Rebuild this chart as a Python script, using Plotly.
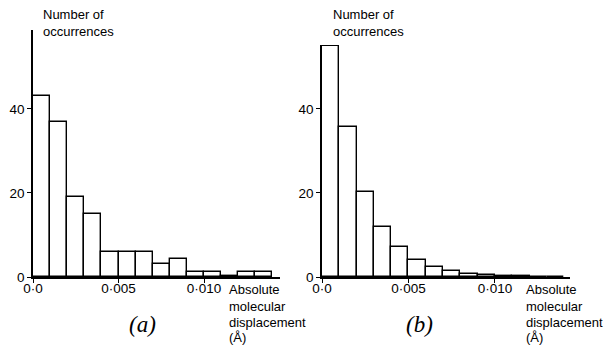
import plotly.graph_objects as go

# Bin left edges (Å), bin width 0.001
bin_left = [0.000, 0.001, 0.002, 0.003, 0.004, 0.005, 0.006,
            0.007, 0.008, 0.009, 0.010, 0.011, 0.012, 0.013]
bin_width = 0.001

counts_a = [43, 37, 19, 15, 6, 6, 6, 3, 4.2, 1.1, 1.1, 0.2, 1.3, 1.3]
counts_b = [55, 35.8, 20.3, 12, 7.1, 4.0, 2.4, 1.4, 0.8, 0.5, 0.3, 0.2, 0.1, 0.05]

xtick_vals = [0.0, 0.005, 0.010]
xtick_text = ["0·0", "0·005", "0·010"]
ytick_vals = [0, 20, 40]
ytick_text = ["0", "20", "40"]

y_title_lines = ["Number of", "occurrences"]
x_title_lines = ["Absolute", "molecular", "displacement", "(Å)"]

W, H = 608, 346
centers = [b + bin_width / 2 for b in bin_left]

fig = go.Figure()
bar_style = dict(marker=dict(color="white", line=dict(color="black", width=1.4)),
                 width=bin_width, showlegend=False, hoverinfo="skip")
fig.add_trace(go.Bar(x=centers, y=counts_a, xaxis="x", yaxis="y", **bar_style))
fig.add_trace(go.Bar(x=centers, y=counts_b, xaxis="x2", yaxis="y2", **bar_style))

font = dict(family="Liberation Sans, Arial, sans-serif", size=13.5, color="black")

def xax(domain, rng, anchor):
    return dict(domain=domain, range=rng, anchor=anchor, showgrid=False, zeroline=False,
                automargin=False, ticklabelstandoff=-6,
                showline=True, linecolor="black", linewidth=1.5,
                ticks="outside", ticklen=4, tickwidth=1.2, tickcolor="black",
                tickvals=xtick_vals, ticktext=xtick_text, tickfont=font)

def yax(domain, rng, anchor):
    return dict(domain=domain, range=rng, anchor=anchor, showgrid=False, zeroline=False,
                automargin=False,
                showline=True, linecolor="black", linewidth=1.5,
                ticks="outside", ticklen=4, tickwidth=1.2, tickcolor="black",
                tickvals=ytick_vals, ticktext=ytick_text, tickfont=font)

y0 = (H - 277) / H
fig.update_layout(
    width=W, height=H,
    margin=dict(l=0, r=0, t=0, b=0),
    paper_bgcolor="white", plot_bgcolor="white",
    bargap=0,
    xaxis=xax([33 / W, 280 / W], [0, 0.01444], "y"),
    yaxis=yax([y0, (H - 30) / H], [0, 58.8], "x"),
    xaxis2=xax([322 / W, 570 / W], [0, 0.01434], "y2"),
    yaxis2=yax([y0, (H - 45) / H], [0, 55.2], "x2"),
)

ann_font = dict(family="Liberation Sans, Arial, sans-serif", size=13, color="black")
label_font = dict(family="Liberation Serif, Times New Roman, serif", size=23, color="black")

def add_line(text, x_px, y_px):
    fig.add_annotation(xref="paper", yref="paper", showarrow=False, text=text,
                       x=x_px / W, y=(H - y_px) / H, xanchor="left", yanchor="middle",
                       font=ann_font)

for left in (41, 331):
    for i, t in enumerate(y_title_lines):
        add_line(t, left, 14 + 17 * i)
for left in (227, 524):
    for i, t in enumerate(x_title_lines):
        add_line(t, left, [289, 306, 322, 337][i])

fig.add_annotation(xref="paper", yref="paper", showarrow=False, text="<i>(a)</i>",
                   x=142 / W, y=(H - 324) / H, xanchor="center", yanchor="middle", font=label_font)
fig.add_annotation(xref="paper", yref="paper", showarrow=False, text="<i>(b)</i>",
                   x=419 / W, y=(H - 324) / H, xanchor="center", yanchor="middle", font=label_font)

fig.write_html("out.html")
